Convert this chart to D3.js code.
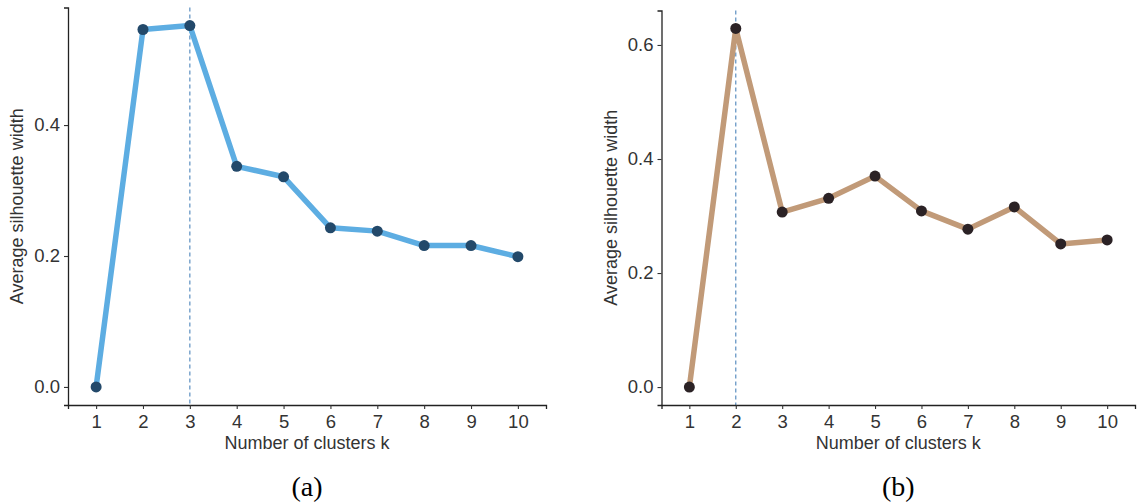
<!DOCTYPE html>
<html>
<head>
<meta charset="utf-8">
<script src="https://cdn.jsdelivr.net/npm/d3@7"></script>
<style>
  body { margin: 0; background: white; }
</style>
</head>
<body>
<div id="chart"></div>
<script>
let w = 1143;
let h = 503;

// values
let clustersK = [1, 2, 3, 4, 5, 6, 7, 8, 9, 10];
let silhouetteA = [0, 0.546, 0.552, 0.337, 0.321, 0.243, 0.238, 0.216, 0.216, 0.199];
let silhouetteB = [0, 0.629, 0.307, 0.331, 0.370, 0.309, 0.277, 0.316, 0.251, 0.258];
let optimalA = 3;
let optimalB = 2;
let yTicksA = [0, 0.2, 0.4];
let yTicksB = [0, 0.2, 0.4, 0.6];
let captions = ["(a)", "(b)"];

let svg = d3.select("#chart").append("svg")
    .attr("width", w)
    .attr("height", h)
    .style("font-family", "Liberation Sans, Arial, sans-serif");

function drawPanel(opts){
    let g = svg.append("g");
    let vals = opts.values;
    let maxV = d3.max(vals);
    let pad = maxV * 0.05;

    let x = d3.scaleLinear().domain([0.4, 10.6]).range([opts.left, opts.right]);
    let y = d3.scaleLinear().domain([-pad, maxV + pad]).range([opts.bottom, opts.top]);

    // dashed line at the chosen k
    g.append("line")
        .attr("x1", x(opts.best)).attr("x2", x(opts.best))
        .attr("y1", opts.top).attr("y2", opts.bottom)
        .attr("stroke", "#5b8fc0")
        .attr("stroke-width", 1.2)
        .attr("stroke-dasharray", "4,3");

    let line = d3.line()
        .x((d, i) => x(clustersK[i]))
        .y(d => y(d));

    g.append("path")
        .datum(vals)
        .attr("d", line)
        .attr("fill", "none")
        .attr("stroke", opts.lineColor)
        .attr("stroke-width", 5.5)
        .attr("stroke-linejoin", "round");

    g.selectAll(".pt").data(vals).join("circle")
        .attr("class", "pt")
        .attr("cx", (d, i) => x(clustersK[i]))
        .attr("cy", d => y(d))
        .attr("r", 5.5)
        .attr("fill", opts.pointColor);

    let xAxis = d3.axisBottom(x).tickValues(clustersK).tickFormat(d3.format("d")).tickSizeOuter(0).tickSize(4).tickPadding(6);
    let yAxis = d3.axisLeft(y).tickValues(opts.yTicks).tickFormat(d3.format(".1f")).tickSizeOuter(0).tickSize(4).tickPadding(4);

    let gx = g.append("g")
        .attr("transform", "translate(0," + opts.bottom + ")")
        .call(xAxis);
    let gy = g.append("g")
        .attr("transform", "translate(" + opts.left + ",0)")
        .call(yAxis);

    [gx, gy].forEach(function(ax){
        ax.select(".domain").attr("stroke", "#222").attr("stroke-width", 1.3);
        ax.selectAll(".tick line").attr("stroke", "#333").attr("stroke-width", 1.1);
        ax.selectAll(".tick text")
            .attr("fill", "#333")
            .attr("font-size", 18.5)
            .attr("font-family", "Liberation Sans, Arial, sans-serif");
    });

    // x axis title
    g.append("text")
        .attr("x", (opts.left + opts.right) / 2)
        .attr("y", 449)
        .attr("text-anchor", "middle")
        .attr("font-size", 18)
        .attr("fill", "#333")
        .text("Number of clusters k");

    // y axis title
    g.append("text")
        .attr("transform", "translate(" + (opts.left - 45) + "," + ((opts.top + opts.bottom) / 2) + ") rotate(-90)")
        .attr("text-anchor", "middle")
        .attr("font-size", 18)
        .attr("fill", "#333")
        .text("Average silhouette width");

    // caption below the panel
    g.append("text")
        .attr("x", (opts.left + opts.right) / 2)
        .attr("y", 496)
        .attr("text-anchor", "middle")
        .attr("font-family", "Liberation Serif, Times New Roman, serif")
        .attr("font-size", 28)
        .attr("fill", "#000")
        .text(opts.caption);
}

drawPanel({
    values: silhouetteA, best: optimalA, yTicks: yTicksA, caption: captions[0],
    left: 68, right: 546, top: 7.5, bottom: 405,
    lineColor: "#5dade2", pointColor: "#23496a"
});

drawPanel({
    values: silhouetteB, best: optimalB, yTicks: yTicksB, caption: captions[1],
    left: 661.5, right: 1135, top: 10.5, bottom: 405,
    lineColor: "#c19a78", pointColor: "#2b2225"
});
</script>
</body>
</html>
